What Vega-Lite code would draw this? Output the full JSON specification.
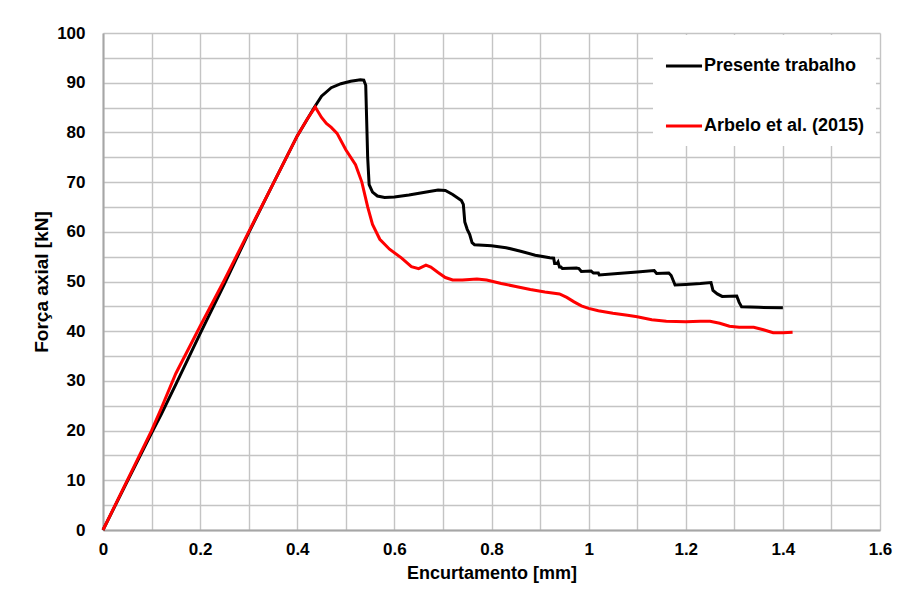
{
  "$schema": "https://vega.github.io/schema/vega-lite/v6.json",
  "width": 777,
  "height": 497,
  "autosize": {"type": "none"},
  "padding": {"left": 103, "top": 33, "right": 36, "bottom": 78},
  "background": "white",
  "config": {
    "font": "Liberation Sans",
    "view": {"stroke": null},
    "axis": {
      "gridColor": "#c4c4c4",
      "gridWidth": 1.4,
      "domainColor": "#a6a6a6",
      "domainWidth": 2,
      "ticks": false,
      "labelFont": "Liberation Sans",
      "labelFontWeight": "bold",
      "labelFontSize": 17,
      "labelColor": "#000000",
      "titleFont": "Liberation Sans",
      "titleFontWeight": "bold",
      "titleFontSize": 18,
      "titleColor": "#000000"
    }
  },
  "data": {
    "values": [
      {"s": "Presente trabalho", "x": 0, "y": 0},
      {"s": "Presente trabalho", "x": 0.05, "y": 9.8},
      {"s": "Presente trabalho", "x": 0.1, "y": 19.5},
      {"s": "Presente trabalho", "x": 0.12, "y": 23.3},
      {"s": "Presente trabalho", "x": 0.15, "y": 29.3},
      {"s": "Presente trabalho", "x": 0.2, "y": 39.5},
      {"s": "Presente trabalho", "x": 0.25, "y": 49.5},
      {"s": "Presente trabalho", "x": 0.3, "y": 59.8},
      {"s": "Presente trabalho", "x": 0.35, "y": 69.6},
      {"s": "Presente trabalho", "x": 0.4, "y": 79.3},
      {"s": "Presente trabalho", "x": 0.435, "y": 85},
      {"s": "Presente trabalho", "x": 0.45, "y": 87.3},
      {"s": "Presente trabalho", "x": 0.47, "y": 89},
      {"s": "Presente trabalho", "x": 0.49, "y": 89.8},
      {"s": "Presente trabalho", "x": 0.51, "y": 90.3},
      {"s": "Presente trabalho", "x": 0.53, "y": 90.6},
      {"s": "Presente trabalho", "x": 0.537, "y": 90.5},
      {"s": "Presente trabalho", "x": 0.541, "y": 89.5},
      {"s": "Presente trabalho", "x": 0.545, "y": 75},
      {"s": "Presente trabalho", "x": 0.548, "y": 69.5},
      {"s": "Presente trabalho", "x": 0.555, "y": 68},
      {"s": "Presente trabalho", "x": 0.565, "y": 67.2},
      {"s": "Presente trabalho", "x": 0.58, "y": 66.9},
      {"s": "Presente trabalho", "x": 0.6, "y": 67},
      {"s": "Presente trabalho", "x": 0.63, "y": 67.4},
      {"s": "Presente trabalho", "x": 0.66, "y": 67.9},
      {"s": "Presente trabalho", "x": 0.69, "y": 68.4},
      {"s": "Presente trabalho", "x": 0.705, "y": 68.3},
      {"s": "Presente trabalho", "x": 0.72, "y": 67.5},
      {"s": "Presente trabalho", "x": 0.738, "y": 66.3},
      {"s": "Presente trabalho", "x": 0.742, "y": 65.5},
      {"s": "Presente trabalho", "x": 0.745, "y": 62},
      {"s": "Presente trabalho", "x": 0.75, "y": 60.5},
      {"s": "Presente trabalho", "x": 0.755, "y": 59.5},
      {"s": "Presente trabalho", "x": 0.76, "y": 57.8},
      {"s": "Presente trabalho", "x": 0.765, "y": 57.4},
      {"s": "Presente trabalho", "x": 0.8, "y": 57.2},
      {"s": "Presente trabalho", "x": 0.83, "y": 56.8},
      {"s": "Presente trabalho", "x": 0.86, "y": 56.1},
      {"s": "Presente trabalho", "x": 0.89, "y": 55.3},
      {"s": "Presente trabalho", "x": 0.92, "y": 54.8},
      {"s": "Presente trabalho", "x": 0.928, "y": 54.7},
      {"s": "Presente trabalho", "x": 0.93, "y": 53.6},
      {"s": "Presente trabalho", "x": 0.935, "y": 53.6},
      {"s": "Presente trabalho", "x": 0.937, "y": 53.9},
      {"s": "Presente trabalho", "x": 0.94, "y": 52.9},
      {"s": "Presente trabalho", "x": 0.943, "y": 52.9},
      {"s": "Presente trabalho", "x": 0.946, "y": 52.6},
      {"s": "Presente trabalho", "x": 0.975, "y": 52.7},
      {"s": "Presente trabalho", "x": 0.98, "y": 52.6},
      {"s": "Presente trabalho", "x": 0.985, "y": 52},
      {"s": "Presente trabalho", "x": 1.005, "y": 52.1},
      {"s": "Presente trabalho", "x": 1.01, "y": 51.7},
      {"s": "Presente trabalho", "x": 1.02, "y": 51.7},
      {"s": "Presente trabalho", "x": 1.022, "y": 51.3},
      {"s": "Presente trabalho", "x": 1.06, "y": 51.6},
      {"s": "Presente trabalho", "x": 1.1, "y": 51.9},
      {"s": "Presente trabalho", "x": 1.135, "y": 52.2},
      {"s": "Presente trabalho", "x": 1.14, "y": 51.6},
      {"s": "Presente trabalho", "x": 1.165, "y": 51.7},
      {"s": "Presente trabalho", "x": 1.17, "y": 51.2},
      {"s": "Presente trabalho", "x": 1.178, "y": 49.3},
      {"s": "Presente trabalho", "x": 1.2, "y": 49.4},
      {"s": "Presente trabalho", "x": 1.23, "y": 49.6},
      {"s": "Presente trabalho", "x": 1.252, "y": 49.8},
      {"s": "Presente trabalho", "x": 1.256, "y": 48.2},
      {"s": "Presente trabalho", "x": 1.265, "y": 47.5},
      {"s": "Presente trabalho", "x": 1.275, "y": 47},
      {"s": "Presente trabalho", "x": 1.305, "y": 47.1},
      {"s": "Presente trabalho", "x": 1.31, "y": 45.8},
      {"s": "Presente trabalho", "x": 1.315, "y": 44.9},
      {"s": "Presente trabalho", "x": 1.35, "y": 44.8},
      {"s": "Presente trabalho", "x": 1.4, "y": 44.7},
      {"s": "Arbelo et al. (2015)", "x": 0, "y": 0},
      {"s": "Arbelo et al. (2015)", "x": 0.05, "y": 10},
      {"s": "Arbelo et al. (2015)", "x": 0.1, "y": 20},
      {"s": "Arbelo et al. (2015)", "x": 0.12, "y": 24.5},
      {"s": "Arbelo et al. (2015)", "x": 0.15, "y": 31.5},
      {"s": "Arbelo et al. (2015)", "x": 0.2, "y": 41},
      {"s": "Arbelo et al. (2015)", "x": 0.25, "y": 50.3},
      {"s": "Arbelo et al. (2015)", "x": 0.3, "y": 60},
      {"s": "Arbelo et al. (2015)", "x": 0.35, "y": 69.6},
      {"s": "Arbelo et al. (2015)", "x": 0.4, "y": 79.3},
      {"s": "Arbelo et al. (2015)", "x": 0.42, "y": 82.6},
      {"s": "Arbelo et al. (2015)", "x": 0.437, "y": 85.1},
      {"s": "Arbelo et al. (2015)", "x": 0.45, "y": 83},
      {"s": "Arbelo et al. (2015)", "x": 0.46, "y": 81.8},
      {"s": "Arbelo et al. (2015)", "x": 0.47, "y": 81},
      {"s": "Arbelo et al. (2015)", "x": 0.482, "y": 79.8},
      {"s": "Arbelo et al. (2015)", "x": 0.5, "y": 76.5},
      {"s": "Arbelo et al. (2015)", "x": 0.52, "y": 73.5},
      {"s": "Arbelo et al. (2015)", "x": 0.533, "y": 70},
      {"s": "Arbelo et al. (2015)", "x": 0.545, "y": 65},
      {"s": "Arbelo et al. (2015)", "x": 0.555, "y": 61.5},
      {"s": "Arbelo et al. (2015)", "x": 0.57, "y": 58.5},
      {"s": "Arbelo et al. (2015)", "x": 0.59, "y": 56.5},
      {"s": "Arbelo et al. (2015)", "x": 0.615, "y": 54.7},
      {"s": "Arbelo et al. (2015)", "x": 0.635, "y": 53},
      {"s": "Arbelo et al. (2015)", "x": 0.65, "y": 52.6},
      {"s": "Arbelo et al. (2015)", "x": 0.665, "y": 53.3},
      {"s": "Arbelo et al. (2015)", "x": 0.675, "y": 52.9},
      {"s": "Arbelo et al. (2015)", "x": 0.69, "y": 51.8},
      {"s": "Arbelo et al. (2015)", "x": 0.705, "y": 50.8},
      {"s": "Arbelo et al. (2015)", "x": 0.72, "y": 50.3},
      {"s": "Arbelo et al. (2015)", "x": 0.74, "y": 50.3},
      {"s": "Arbelo et al. (2015)", "x": 0.77, "y": 50.5},
      {"s": "Arbelo et al. (2015)", "x": 0.79, "y": 50.3},
      {"s": "Arbelo et al. (2015)", "x": 0.82, "y": 49.6},
      {"s": "Arbelo et al. (2015)", "x": 0.85, "y": 49},
      {"s": "Arbelo et al. (2015)", "x": 0.88, "y": 48.4},
      {"s": "Arbelo et al. (2015)", "x": 0.91, "y": 47.9},
      {"s": "Arbelo et al. (2015)", "x": 0.94, "y": 47.5},
      {"s": "Arbelo et al. (2015)", "x": 0.955, "y": 46.8},
      {"s": "Arbelo et al. (2015)", "x": 0.97, "y": 45.9},
      {"s": "Arbelo et al. (2015)", "x": 0.985, "y": 45.1},
      {"s": "Arbelo et al. (2015)", "x": 1.0, "y": 44.6},
      {"s": "Arbelo et al. (2015)", "x": 1.02, "y": 44.1},
      {"s": "Arbelo et al. (2015)", "x": 1.05, "y": 43.6},
      {"s": "Arbelo et al. (2015)", "x": 1.08, "y": 43.2},
      {"s": "Arbelo et al. (2015)", "x": 1.1, "y": 42.9},
      {"s": "Arbelo et al. (2015)", "x": 1.13, "y": 42.3},
      {"s": "Arbelo et al. (2015)", "x": 1.16, "y": 42},
      {"s": "Arbelo et al. (2015)", "x": 1.2, "y": 41.9},
      {"s": "Arbelo et al. (2015)", "x": 1.23, "y": 42},
      {"s": "Arbelo et al. (2015)", "x": 1.25, "y": 42},
      {"s": "Arbelo et al. (2015)", "x": 1.27, "y": 41.6},
      {"s": "Arbelo et al. (2015)", "x": 1.29, "y": 41},
      {"s": "Arbelo et al. (2015)", "x": 1.31, "y": 40.8},
      {"s": "Arbelo et al. (2015)", "x": 1.34, "y": 40.8},
      {"s": "Arbelo et al. (2015)", "x": 1.36, "y": 40.3},
      {"s": "Arbelo et al. (2015)", "x": 1.38, "y": 39.7},
      {"s": "Arbelo et al. (2015)", "x": 1.4, "y": 39.7},
      {"s": "Arbelo et al. (2015)", "x": 1.42, "y": 39.8}
    ]
  },
  "encoding": {
    "x": {
      "field": "x",
      "type": "quantitative",
      "scale": {"domain": [0, 1.6], "nice": false, "zero": false},
      "axis": {
        "title": "Encurtamento [mm]",
        "values": [0, 0.1, 0.2, 0.3, 0.4, 0.5, 0.6, 0.7, 0.8, 0.9, 1, 1.1, 1.2, 1.3, 1.4, 1.5, 1.6],
        "labelExpr": "round(datum.value * 10) % 2 === 0 ? format(datum.value, '~g') : ''",
        "labelPadding": 11,
        "titlePadding": 7,
        "labelFlush": false,
        "labelOverlap": false
      }
    },
    "y": {
      "field": "y",
      "type": "quantitative",
      "scale": {"domain": [0, 100], "nice": false},
      "axis": {
        "title": "Força axial  [kN]",
        "values": [0, 5, 10, 15, 20, 25, 30, 35, 40, 45, 50, 55, 60, 65, 70, 75, 80, 85, 90, 95, 100],
        "labelExpr": "datum.value % 10 === 0 ? datum.label : ''",
        "labelPadding": 18,
        "titlePadding": 5,
        "titleFontSize": 19,
        "labelOverlap": false
      }
    },
    "color": {
      "field": "s",
      "type": "nominal",
      "scale": {"domain": ["Presente trabalho", "Arbelo et al. (2015)"], "range": ["#000000", "#ff0000"]},
      "legend": {
        "title": null,
        "orient": "none",
        "legendX": 550,
        "legendY": 2,
        "padding": 11,
        "fillColor": "white",
        "symbolType": "stroke",
        "symbolSize": 1300,
        "symbolStrokeWidth": 3,
        "labelFont": "Liberation Sans",
        "labelFontWeight": "bold",
        "labelFontSize": 18,
        "labelColor": "#000000",
        "labelLimit": 300,
        "labelOffset": 0,
        "rowPadding": 31
      }
    }
  },
  "layer": [
    {
      "transform": [{"filter": "datum.s === 'Presente trabalho'"}],
      "mark": {"type": "line", "strokeWidth": 3, "interpolate": "linear"}
    },
    {
      "transform": [{"filter": "datum.s === 'Arbelo et al. (2015)'"}],
      "mark": {"type": "line", "strokeWidth": 3, "interpolate": "linear"}
    }
  ]
}
